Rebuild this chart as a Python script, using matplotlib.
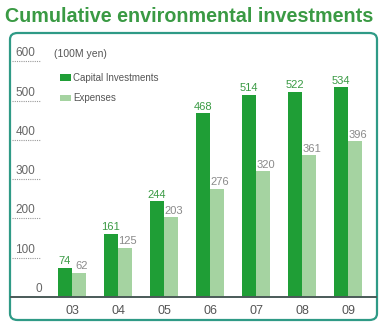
import matplotlib.pyplot as plt
import numpy as np
from matplotlib.patches import FancyBboxPatch, Patch

# Cumulative environmental investments, 100M yen
years = ["03", "04", "05", "06", "07", "08", "09"]
capital = [74, 161, 244, 468, 514, 522, 534]
expenses = [62, 125, 203, 276, 320, 361, 396]
yticks = [0, 100, 200, 300, 400, 500, 600]

CAP_GREEN = "#1f9e36"
EXP_GREEN = "#a5d3a1"
TITLE_GREEN = "#3a9a44"
GRAY = "#8a8a8a"

plt.rcParams["font.family"] = ["Liberation Sans", "DejaVu Sans"]

W, H = 381, 323
fig = plt.figure(figsize=(W / 100, H / 100), dpi=100)

# rounded frame around the chart body
frame = FancyBboxPatch((10 / W, 3 / H), 367 / W, (H - 33 - 3) / H,
                       boxstyle="round,pad=0,rounding_size=0.02",
                       transform=fig.transFigure, facecolor="white",
                       edgecolor="#2f9a86", linewidth=1.6, zorder=-5)
fig.patches.append(frame)

fig.text(5 / W, 1 - 17 / H, "Cumulative environmental investments",
         fontsize=14.2, fontweight="bold", color=TITLE_GREEN,
         ha="left", va="center")

# axes covering the frame interior; 0 sits at pixel row 297
ax = fig.add_axes([10 / W, 3 / H, 367 / W, (320 - 33) / H])
ax.set_axis_off()
px_per_unit = 0.393
ax.set_ylim(-(320 - 297) / px_per_unit, (297 - 33) / px_per_unit)
ax.set_xlim((10 - 72) / 46, (377 - 72) / 46)

x = np.arange(len(years))
bw = 0.31
ax.bar(x - bw / 2, capital, bw, color=CAP_GREEN, zorder=2)
ax.bar(x + bw / 2, expenses, bw, color=EXP_GREEN, zorder=2)

for xi, c, e in zip(x, capital, expenses):
    ax.text(xi - bw / 2, c + 4, str(c), ha="center", va="bottom",
            fontsize=8, color=TITLE_GREEN)
    ax.text(xi + bw / 2 + 0.06, e + 4, str(e), ha="center", va="bottom",
            fontsize=8, color=GRAY)

# baseline across the frame
ax.axhline(0, color="#4a5a58", linewidth=1.4, zorder=3)

# y labels with short dotted rules
for v in yticks:
    if v == 0:
        ax.text(-0.66, v + 6, "0", ha="right", va="bottom",
                fontsize=8.5, color="#666666")
        continue
    ax.hlines(v, -1.30, -0.70, colors="#999999", linewidth=0.8,
              linestyles=(0, (1, 1)))
    ax.text(-0.80, v + 5, str(v), ha="right", va="bottom",
            fontsize=8.5, color="#666666")

for xi, yr in zip(x, years):
    ax.text(xi, -36, yr, ha="center", va="center", fontsize=9,
            color="#555555")

ax.text(-0.40, 600 + 5, "(100M yen)", ha="left", va="bottom",
        fontsize=7.5, color="#555555")

handles = [Patch(facecolor=CAP_GREEN, label="Capital Investments"),
           Patch(facecolor=EXP_GREEN, label="Expenses")]
fig.legend(handles=handles, loc="upper left",
           bbox_to_anchor=(55 / W, 1 - 68 / H), frameon=False,
           fontsize=7, handlelength=1.1, handleheight=0.6,
           handletextpad=0.3, labelspacing=1.05, borderpad=0,
           labelcolor="#555555")

fig.savefig("out.png", dpi=100)
